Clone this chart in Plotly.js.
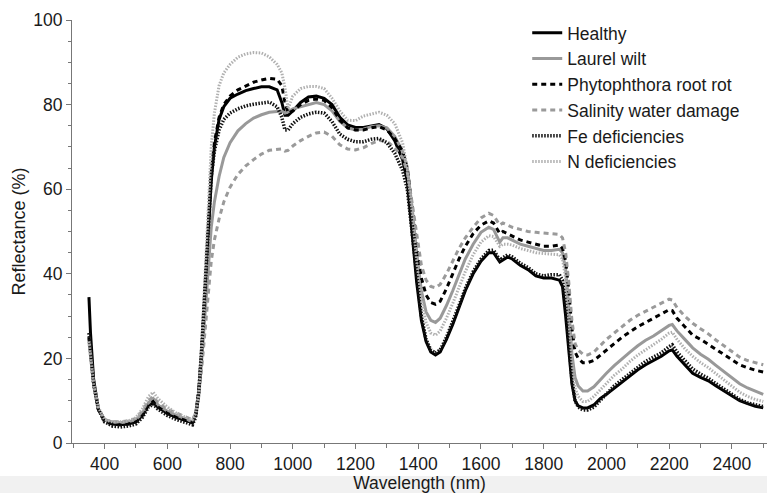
<!DOCTYPE html>
<html>
<head>
<meta charset="utf-8">
<script src="https://cdn.plot.ly/plotly-3.0.1.min.js"></script>
<style>
html,body{margin:0;padding:0;background:#fff;}
#chart{width:767px;height:493px;}
</style>
</head>
<body>
<div id="chart"></div>
<script>
// Wavelength grid (nm)
const wavelength = [350,355,365,380,400,425,450,475,500,520,540,555,570,600,630,660,680,690,700,710,720,730,740,750,765,780,800,825,850,875,900,925,950,965,975,985,1000,1025,1050,1075,1100,1125,1150,1175,1200,1225,1250,1275,1300,1325,1350,1365,1380,1395,1410,1425,1440,1455,1470,1490,1510,1530,1550,1575,1600,1625,1640,1660,1670,1685,1700,1725,1750,1775,1800,1825,1850,1860,1870,1880,1890,1900,1910,1925,1940,1960,1980,2000,2025,2050,2075,2100,2125,2150,2175,2200,2210,2225,2250,2275,2300,2325,2350,2375,2400,2425,2450,2475,2500];

const healthy = [34.5,26,15,8,5.5,4.5,4.3,4.5,5,6.5,9,9.6,8.5,7,6,5.3,4.8,6.5,12,22,35,50,62,70,76.5,79.5,81.5,82.5,83.3,83.8,84.2,84.2,83.5,80.5,77.5,77.5,78.5,80.5,81.8,82,81.5,80,77,75.2,74.6,74.6,75,75.3,74.3,71.5,67,62,50,38,29,24,21.5,20.8,21.5,24.5,28,32,36,40,43,45,45,42.8,43.3,44,43.5,42,41,39.5,39,39,38.5,37,30,22,14,10,8.8,8.3,8.3,9,10.5,11.5,13,14.5,16,17.3,18.5,19.5,20.5,21.8,22,20.5,18.5,16.5,15.5,14.7,13.5,12.3,11,10,9.3,8.7,8.3];

const laurelWilt = [25,21,14,8,5.5,5,4.8,5,5.5,7,9.5,10.5,9,7.5,6.5,5.5,5,6.5,11,20,31,42,51,57,63,67.5,71,73.8,75.5,76.8,77.6,78.2,78.5,78.5,78,78.3,79,79.5,80,80.5,80,78.5,76,74.5,74,74.2,74.8,75,74.5,72.5,69,65,56,45,36,31,29,28.5,29.5,32.5,36,40,43.5,47,49.8,51,50.5,47.5,48.5,48.5,48,47,46.5,46,45.5,45.5,45.8,45,41,32,21,15.5,13.5,12.3,12.3,13.3,15,16.5,18.3,20,21.5,23,24.3,25.3,26.5,27.8,28,26.5,24.5,22.5,21,19.8,18.3,16.8,15.3,14,13,12.2,11.5];

const phytophthora = [25,21,14,8,5,4.5,4.3,4.5,5,6.5,9,9.8,8.5,7,6,5.3,4.8,6.5,12,23,37,52,64,71,77,80,82,83.5,84.5,85.3,85.8,86.2,86,84.5,80.5,78,78.5,80,81,81.3,81,79.3,76.3,74.5,74,74,74.5,74.8,74,72,69,65,56,46,39,35,33.2,32.8,33.5,36.5,40,43.5,46.5,49.5,51.5,52.5,52,49.5,50,49.5,49,48,47.5,47,46.5,46.5,46.8,46,43,36,27,21.5,20,19,19,19.5,20.8,22,23.5,25,26.3,27.5,28.5,29.5,30.5,31.5,31.3,29.5,27.5,25.5,24.5,23.3,22,20.8,19.5,18.5,17.8,17.2,16.8];

const salinity = [24,20,13.5,8,5.5,5,5,5.2,5.8,7.5,10,11,9.5,8,7,6,5.5,7,11,18,27,36,43,48,53,57,60.5,63.5,65.5,67,68.3,69.2,69.5,69.5,69,69.2,70.2,71.5,72.5,73.3,73.5,72.5,70.5,69.5,69.3,69.8,70.8,71.5,71.3,69.8,67.5,64,57,49,42,38.5,37,36.7,37.5,40,43,46,48.5,51,53.2,54.3,53.8,51.5,52,51.5,51,50.5,50,49.8,49.6,49.5,49.3,48.5,45,38,29,23.5,22,21,20.8,21.5,23,24.5,26,27.5,29,30.2,31.2,32,33,34,33.8,32,30,28.3,27,25.8,24.3,23,21.5,20.3,19.5,19,18.5];

const feDef = [26,22,14,8,5,4,3.8,4,4.5,6,8.5,9.2,8,6.5,5.5,4.8,4.3,6,12,23,37,52,63,69,74,76.5,78,79,79.7,80.1,80.4,80.6,79.5,77,74,74,75.5,77,77.8,78.2,78,76,73,71.8,71.2,71.2,71.8,72,71,68.5,64.5,60,50,39,30,24.5,22,21.3,22,25,28.5,32.5,36.5,40.5,43.5,45.5,45.6,43.3,43.8,44.5,44,42.5,41.5,40,39.5,39.8,39.8,38.5,33,25,15,10,8.5,7.8,7.8,8.5,10,11.5,13.5,15,16.5,18,19.3,20.3,21.3,22.8,23.2,21.5,19.5,17.5,16.3,15.3,14,12.8,11.5,10.3,9.5,9,8.6];

const nDef = [24,21,14,8.5,5.5,5,5,5.2,6,8,11,12,10.5,8.5,7,6,5.5,7,12,24,40,57,70,78,84.5,87.5,89.5,91.2,92,92.3,92.2,91.3,89.5,87.5,84,79,82,83.8,84.3,84.3,83.8,81.5,78.5,76.3,76.2,77.3,77.8,78.2,77.5,75.5,71,65,55,43,34,28.5,26,25.5,26.5,29.5,33,37,40.5,44.5,47.5,49,48.8,46.5,47,47,46.8,46,45.5,45,44.8,44.7,44.5,43.5,39,30,19,13,11,9.8,9.8,11,12.5,14,16,17.5,19.3,20.8,22,23.3,24.5,26,26.2,24.5,22.3,20.5,19,17.8,16.3,14.8,13.3,12,11,10.3,9.8];

const seriesNames = ["Healthy","Laurel wilt","Phytophthora root rot","Salinity water damage","Fe deficiencies","N deficiencies"];
const seriesData = [healthy, laurelWilt, phytophthora, salinity, feDef, nDef];
const seriesStyle = [
  {color:"#000000", width:3, dash:"solid"},
  {color:"#999999", width:3, dash:"solid"},
  {color:"#000000", width:3, dash:"5px,4px"},
  {color:"#9a9a9a", width:3, dash:"5px,4px"},
  {color:"#111111", width:3.5, dash:"1.5px,1.5px"},
  {color:"#b0b0b0", width:3, dash:"1.5px,1.5px"}
];

const traces = seriesNames.map((name,i)=>({
  type:"scatter", mode:"lines", name:name,
  x: wavelength, y: seriesData[i],
  line: Object.assign({shape:"linear"}, seriesStyle[i])
}));

const FONT = "Liberation Sans, Arial, Helvetica, sans-serif";

const layout = {
  width:767, height:493,
  margin:{l:72, r:0, t:20, b:50},
  paper_bgcolor:"#ffffff",
  plot_bgcolor:"#ffffff",
  font:{family:FONT, size:17, color:"#1a1a1a"},
  showlegend:true,
  legend:{
    x:0.655, xanchor:"left", y:1.012, yanchor:"top",
    bgcolor:"rgba(0,0,0,0)", borderwidth:0,
    font:{family:FONT, size:17.5, color:"#1a1a1a"},
    itemwidth:30, tracegroupgap:0
  },
  xaxis:{
    range:[296, 2512],
    tick0:400, dtick:200,
    ticks:"outside", ticklen:5, tickwidth:1, tickcolor:"#777",
    minor:{dtick:100, tick0:400, ticks:"outside", ticklen:4, tickcolor:"#777"},
    showline:true, linecolor:"#777", linewidth:1,
    showgrid:false, zeroline:false,
    tickfont:{family:FONT, size:17.5, color:"#1a1a1a"},
    title:{text:"Wavelength (nm)", font:{family:FONT, size:17.5, color:"#1a1a1a"}, standoff:5},
    automargin:false
  },
  yaxis:{
    range:[0,100],
    tick0:0, dtick:20,
    ticks:"outside", ticklen:5, tickwidth:1, tickcolor:"#777",
    minor:{dtick:5, ticks:"outside", ticklen:3, tickcolor:"#777"},
    showline:true, linecolor:"#777", linewidth:1,
    showgrid:false, zeroline:false,
    tickfont:{family:FONT, size:17.5, color:"#1a1a1a"},
    title:{text:"Reflectance (%)", font:{family:FONT, size:18, color:"#1a1a1a"}, standoff:2},
    automargin:false
  },
  shapes:[
    {type:"rect", xref:"paper", yref:"paper", x0:-0.11, x1:1.0, y0:-0.123, y1:-0.078,
     fillcolor:"#f1f1f1", line:{width:0}, layer:"below"}
  ]
};

Plotly.newPlot("chart", traces, layout, {displayModeBar:false, staticPlot:true});
</script>
</body>
</html>
